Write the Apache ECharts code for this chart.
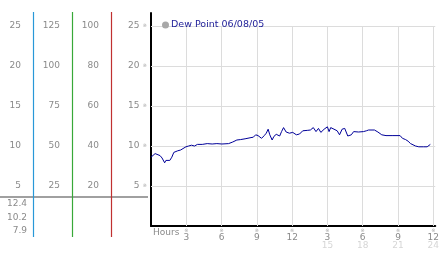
<!DOCTYPE html>
<html><head><meta charset="utf-8">
<script src="https://cdn.jsdelivr.net/npm/echarts@6/dist/echarts.min.js"></script>
<style>html,body{margin:0;padding:0;background:#fff}#c{width:442px;height:253px}</style>
</head><body><div id="c"></div>
<script>
var hours = [0,0.1,0.35,0.5,0.77,0.94,1.16,1.27,1.44,1.6,1.77,1.94,2.1,2.27,2.52,2.69,2.97,3.2,3.44,3.7,3.95,4.36,4.78,5.2,5.6,6.03,6.6,6.95,7.3,7.6,8.0,8.5,8.7,8.9,9.1,9.4,9.63,9.8,9.96,10.1,10.3,10.45,10.65,10.94,11.1,11.27,11.49,11.77,12.05,12.36,12.63,12.9,13.33,13.55,13.8,14.03,14.24,14.44,14.72,15.0,15.14,15.28,15.56,15.83,16.03,16.25,16.47,16.73,17.03,17.23,17.64,18.06,18.31,18.5,18.67,19.0,19.29,19.62,19.98,20.57,21.18,21.38,21.65,21.86,22.07,22.49,22.77,23.16,23.48,23.75];
var dewPoint = [8.6,8.7,9.05,8.9,8.8,8.5,7.9,8.2,8.0,8.2,8.6,9.2,9.1,9.4,9.5,9.6,9.9,10.0,10.1,10.0,10.2,10.2,10.3,10.25,10.3,10.25,10.3,10.5,10.75,10.8,10.9,11.05,11.1,11.4,11.3,10.96,11.3,11.6,12.1,11.4,10.75,11.2,11.46,11.25,11.8,12.3,11.75,11.6,11.7,11.4,11.5,11.9,11.96,12.0,12.3,11.8,12.2,11.7,12.1,12.4,11.8,12.3,12.1,11.9,11.4,12.1,12.2,11.25,11.4,11.8,11.75,11.8,11.9,12.0,12.2,12.0,11.75,11.4,11.3,11.3,11.3,10.96,10.8,10.6,10.3,10.0,9.9,9.9,9.9,10.2];
var xTicks = [3,6,9,12,15,18,21,24];
var xTopLabels = ['3','6','9','12','3','6','9','12'];
var xBottomLabels = ['','','','','15','18','21','24'];
var yTicks = [5,10,15,20,25];
var seriesName = 'Dew Point 06/08/05';

var FONT = 'DejaVu Sans';
var chart = echarts.init(document.getElementById('c'), null, {renderer:'canvas'});
var pts = hours.map(function(h,i){return [h, dewPoint[i]];});
var maxV = Math.max.apply(null, dewPoint), minV = Math.min.apply(null, dewPoint), lastV = dewPoint[dewPoint.length-1];

var gridLines = yTicks.map(function(v){return {yAxis:v};});
xTicks.forEach(function(t){ gridLines.push([{coord:[t,0]},{coord:[t,25]}]); });

function yLab(factor, withMark){
  return function(v){
    var base = v/factor;
    if (Math.abs(base - Math.round(base)) > 1e-6) return '';
    base = Math.round(base);
    if (yTicks.indexOf(base) < 0) return '';
    return withMark ? '{n|' + v + '} {m|※}' : '{n|' + v + '}';
  };
}
var rich = {n:{fontFamily:FONT,fontSize:9,color:'#8a8a8a'}, m:{fontFamily:FONT,fontSize:5,color:'#aaa'}};
function extraAxis(offset, factor){
  return {type:'value', position:'left', offset:offset, min:0, max:26.625*factor, interval:5*factor,
    axisLine:{show:false}, axisTick:{show:false}, splitLine:{show:false},
    axisLabel:{margin:12, formatter:yLab(factor,false), rich:rich}};
}

chart.setOption({
  animation:false,
  backgroundColor:'#fff',
  grid:{left:151, right:2, top:13, bottom:27, containLabel:false},
  legend:{show:true, left:157, top:15, icon:'circle', itemWidth:7, itemHeight:7, itemGap:4,
    itemStyle:{color:'#a8a8a8'},
    textStyle:{fontFamily:FONT, fontSize:9.5, color:'#22229a', padding:[0,0,0,-3]},
    data:[seriesName]},
  xAxis:{type:'value', min:0, max:24.167, interval:3,
    axisLine:{show:true, lineStyle:{color:'#000', width:2}},
    axisTick:{show:false}, splitLine:{show:false},
    axisLabel:{margin:2, showMaxLabel:false, showMinLabel:false,
      formatter:function(v){
        var i = xTicks.indexOf(v);
        if (i < 0) return '';
        return '{m|※}\n{a|' + xTopLabels[i] + '}\n{b|' + (xBottomLabels[i] || ' ') + '}';
      },
      rich:{m:{fontFamily:FONT,fontSize:5,color:'#aaa',lineHeight:6},
            a:{fontFamily:FONT,fontSize:9,color:'#8a8a8a',lineHeight:8},
            b:{fontFamily:FONT,fontSize:9,color:'#d6d6d6',lineHeight:8}}}},
  yAxis:[
    {type:'value', position:'left', offset:2, min:0, max:26.625, interval:5,
      axisLine:{show:true, lineStyle:{color:'#000', width:2}},
      axisTick:{show:false}, splitLine:{show:false},
      axisLabel:{margin:2, formatter:yLab(1,true), rich:rich}},
    extraAxis(40, 4),
    extraAxis(79, 5),
    extraAxis(118, 1)
  ],
  graphic:[
    {type:'line', shape:{x1:0,y1:197,x2:148,y2:197}, style:{stroke:'#a0a0a0', lineWidth:2}, z:1},
    {type:'line', shape:{x1:33.5,y1:12,x2:33.5,y2:237}, style:{stroke:'#2898d8', lineWidth:1.2}, z:20},
    {type:'line', shape:{x1:72.5,y1:12,x2:72.5,y2:237}, style:{stroke:'#38a838', lineWidth:1.2}, z:20},
    {type:'line', shape:{x1:111.5,y1:12,x2:111.5,y2:237}, style:{stroke:'#c03030', lineWidth:1.2}, z:20},
    {type:'text', right:442-27, top:199, style:{text:maxV.toFixed(1), font:'9px "DejaVu Sans"', fill:'#8a8a8a', textAlign:'right'}},
    {type:'text', right:442-27, top:213, style:{text:lastV.toFixed(1), font:'9px "DejaVu Sans"', fill:'#8a8a8a', textAlign:'right'}},
    {type:'text', right:442-27, top:226, style:{text:minV.toFixed(1), font:'9px "DejaVu Sans"', fill:'#8a8a8a', textAlign:'right'}},
    {type:'text', left:153, top:228, style:{text:'Hours', font:'9px "DejaVu Sans"', fill:'#8a8a8a'}}
  ],
  series:[{
    name:seriesName, type:'line', data:pts, showSymbol:false, symbol:'none',
    lineStyle:{color:'#000099', width:1}, itemStyle:{color:'#000099'}, z:5,
    markLine:{silent:true, symbol:['none','none'], label:{show:false},
      lineStyle:{color:'#dcdcdc', width:1, type:'solid'}, data:gridLines, z:1}
  }]
});
</script></body></html>
